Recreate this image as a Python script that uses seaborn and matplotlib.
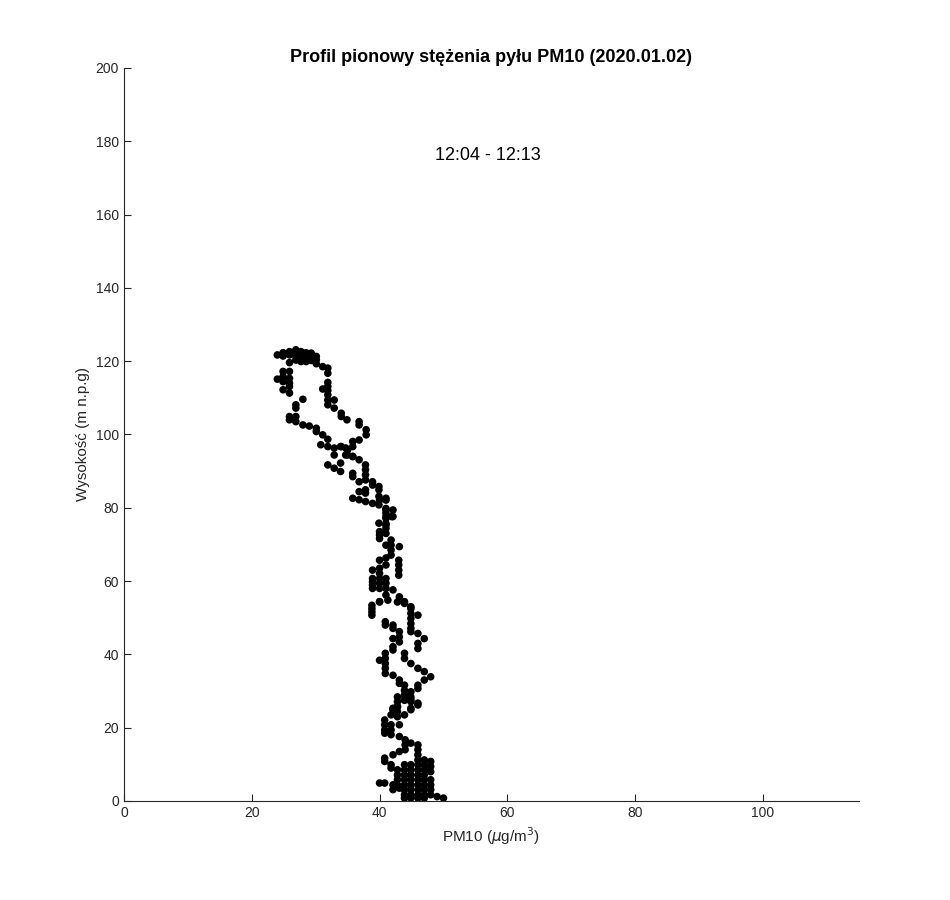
import numpy as np
import pandas as pd
import seaborn as sns
import matplotlib
matplotlib.use('Agg')
import matplotlib.pyplot as plt

# PM10 vertical profile, drone flight 12:04 - 12:13

pm10 = [
    24.0, 24.9, 24.9, 25.9, 25.9, 25.9, 26.9, 26.9, 26.9, 26.9, 27.7, 27.7, 27.7, 27.7,
    28.5, 28.5, 28.5, 28.5, 29.3, 29.3, 29.3, 30.1, 30.1, 30.1, 31.1, 31.9, 31.9,
    24.9, 24.9, 24.9, 24.0, 25.9, 25.9, 25.9, 24.9, 25.9, 25.9,
    31.9, 31.9, 31.9, 31.1, 31.9, 31.9, 31.9, 32.9, 32.9, 34.0, 34.0, 34.9,
    28.0, 26.9, 26.9, 25.9, 25.9, 26.9, 26.9, 28.0, 29.0, 30.1, 30.1, 31.1, 31.9, 30.8,
    31.9, 32.9, 32.9,
    36.8, 36.8, 37.9, 37.9, 36.8, 35.8, 35.8, 34.7, 34.0, 34.7, 35.8,
    31.9, 32.9, 33.9, 33.9, 35.8, 35.8, 36.8, 37.8, 37.8, 37.8, 37.8, 38.9, 38.9,
    39.9, 39.9, 36.8, 37.8, 37.8, 35.8, 36.8, 37.8, 38.9, 39.9, 39.9,
    41.0, 41.0, 41.0, 41.0, 41.9, 39.9, 35.0, 33.9, 35.0, 35.8, 36.8,
    40.0, 41.0, 41.0, 41.0, 41.0, 41.0, 41.0, 41.0, 40.0, 40.0, 40.0, 42.1, 42.1,
    41.8, 41.8, 41.8, 41.8, 41.0, 41.0, 43.1, 43.0, 43.0, 43.0, 43.0,
    40.0, 40.0, 38.9, 40.0, 41.0, 38.9, 38.9, 38.9, 38.9, 40.0, 40.0, 40.0,
    41.0, 41.0, 41.0, 42.1, 41.0, 43.1, 43.9, 44.9, 40.0,
    38.8, 38.8, 38.8, 38.8, 40.0, 41.3, 42.8, 43.9,
    44.9, 44.9, 44.9, 44.9, 44.9, 44.9, 46.0, 46.0, 47.0, 46.0, 46.0,
    40.9, 40.9, 42.1, 42.1, 43.1, 43.1, 43.1, 42.1, 42.1, 42.1,
    40.9, 40.9, 40.9, 40.9, 40.9, 40.0, 43.9, 43.9, 44.9, 46.0, 47.0, 48.0, 47.0,
    42.1, 43.1, 43.1, 46.0, 46.0, 43.9, 43.9, 43.9, 43.9, 44.9, 44.9, 44.9,
    42.8, 42.8, 42.8, 42.1, 44.9, 46.0,
    42.8, 42.8, 42.8, 43.9, 44.9, 46.0, 44.9, 43.9, 42.1, 41.8,
    40.8, 40.8, 40.8, 40.8, 41.8, 41.8, 41.8, 43.1, 43.1, 43.1,
    44.0, 44.0, 44.0, 44.9, 46.0, 46.0, 46.0, 46.0, 46.0, 46.0, 46.0,
    42.1, 40.8, 40.8, 41.8, 41.8, 42.8, 42.8, 42.8, 42.8,
    43.9, 43.9, 43.9, 43.9, 43.9, 43.9,
    44.9, 44.9, 44.9, 44.9, 44.9, 44.9, 44.9, 44.9,
    46.0, 46.0, 46.0, 46.0, 46.0,
    47.0, 47.0, 47.0, 47.0, 47.0, 47.0, 47.0, 47.0, 47.0,
    48.0, 48.0, 48.0, 48.0, 48.0, 48.0, 48.0, 49.0, 50.0,
    40.0, 40.8, 42.1, 42.1, 43.1, 43.9, 43.9,
]

height = [
    121.7, 122.3, 121.4, 122.6, 121.7, 119.6, 123.1, 122.2, 121.3, 120.3, 122.6, 121.7, 120.8, 119.9,
    122.3, 121.4, 120.5, 119.9, 122.2, 121.3, 120.2, 121.3, 120.4, 119.3, 118.5, 118.1, 116.7,
    117.2, 115.8, 114.4, 115.1, 117.2, 115.3, 114.0, 112.2, 113.1, 111.3,
    114.2, 113.1, 112.0, 112.4, 110.8, 109.4, 108.1, 109.4, 107.2, 105.8, 104.9, 104.0,
    109.6, 108.1, 107.2, 104.9, 104.0, 104.9, 103.5, 102.6, 102.3, 101.7, 100.8, 99.9, 98.7, 97.2,
    96.7, 96.3, 94.4,
    103.5, 102.6, 101.3, 99.9, 98.5, 98.1, 96.7, 96.3, 96.7, 94.4, 94.0,
    91.7, 90.8, 92.2, 89.9, 89.4, 88.5, 87.1, 91.7, 90.4, 89.0, 87.6, 87.1, 86.2,
    85.8, 84.9, 84.4, 84.9, 84.0, 82.6, 82.2, 81.7, 81.2, 83.1, 80.8,
    82.6, 79.4, 77.6, 75.3, 77.6, 75.8, 95.8, 96.7, 94.4, 94.0, 93.1,
    82.1, 82.1, 79.8, 78.5, 77.1, 75.7, 74.4, 73.0, 73.5, 72.6, 71.6, 79.4, 77.6,
    71.2, 69.8, 68.5, 67.1, 69.8, 66.3, 69.4, 65.7, 64.4, 63.0, 61.6,
    65.7, 63.5, 63.0, 62.1, 64.4, 60.7, 59.8, 58.9, 58.0, 60.7, 59.4, 58.0,
    60.7, 59.4, 58.0, 57.6, 56.2, 55.7, 54.4, 53.0, 54.4,
    53.4, 52.5, 51.6, 50.7, 54.3, 54.8, 54.3, 53.9,
    52.5, 51.2, 49.8, 48.4, 47.1, 46.2, 50.7, 45.7, 44.3, 43.0, 41.6,
    48.9, 48.0, 48.0, 47.1, 46.2, 44.8, 43.4, 44.3, 42.1, 41.2,
    40.3, 38.9, 37.5, 36.2, 34.8, 38.4, 40.3, 38.9, 37.5, 36.2, 35.3, 33.9, 33.0,
    34.3, 33.0, 32.1, 31.6, 30.7, 31.6, 30.2, 28.9, 27.5, 29.8, 28.4, 27.1,
    28.4, 27.1, 25.7, 25.3, 25.3, 26.2,
    25.8, 24.4, 23.0, 27.6, 27.6, 26.7, 24.9, 23.5, 24.9, 23.5,
    22.1, 20.8, 19.4, 18.5, 20.8, 19.4, 18.1, 20.8, 17.6, 13.5,
    16.7, 15.3, 14.0, 15.8, 15.3, 14.0, 12.6, 11.2, 9.9, 8.5, 7.1,
    12.6, 11.7, 10.8, 9.9, 9.0, 8.5, 7.1, 5.8, 4.4,
    9.9, 8.5, 7.1, 5.8, 4.4, 3.1,
    9.9, 8.5, 7.1, 5.8, 4.4, 3.1, 1.7, 0.8,
    5.8, 4.4, 3.1, 1.7, 0.8,
    11.2, 9.9, 8.5, 7.1, 5.8, 4.4, 3.1, 1.7, 0.8,
    10.8, 9.4, 8.0, 5.8, 4.4, 3.1, 1.7, 1.2, 0.8,
    4.9, 4.9, 4.4, 3.1, 3.5, 1.7, 0.8,
]

df = pd.DataFrame({'PM10': pm10, 'Wysokosc': height})

sns.set_style('white')
plt.rcParams['font.family'] = ['Liberation Sans', 'DejaVu Sans']

fig = plt.figure(figsize=(9.5, 9), dpi=100)
ax = fig.add_axes([0.1305, 0.11, 0.7735, 0.8145])

sns.scatterplot(data=df, x='PM10', y='Wysokosc', color='black', s=30,
                edgecolor='none', ax=ax)

ax.set_xlim(0, 115)
ax.set_ylim(0, 200)
ax.set_xticks(range(0, 101, 20))
ax.set_yticks(range(0, 201, 20))
ax.tick_params(direction='in', length=5, width=0.8, colors='#262626',
               labelsize=10, bottom=True, left=True)
for side in ['top', 'right']:
    ax.spines[side].set_visible(False)
for side in ['bottom', 'left']:
    ax.spines[side].set_color('#262626')
    ax.spines[side].set_linewidth(0.8)

ax.set_xlabel(r'PM10 ($\mu$g/m$^3$)', fontsize=11, color='#262626')
ax.set_ylabel('Wysokość (m n.p.g)', fontsize=11, color='#262626')
ax.set_title('Profil pionowy stężenia pyłu PM10 (2020.01.02)', fontsize=13,
             fontweight='bold', color='black', pad=4)
ax.text(57, 176, '12:04 - 12:13', fontsize=13, ha='center', va='center',
        color='black')

plt.savefig('out.png', dpi=100)
